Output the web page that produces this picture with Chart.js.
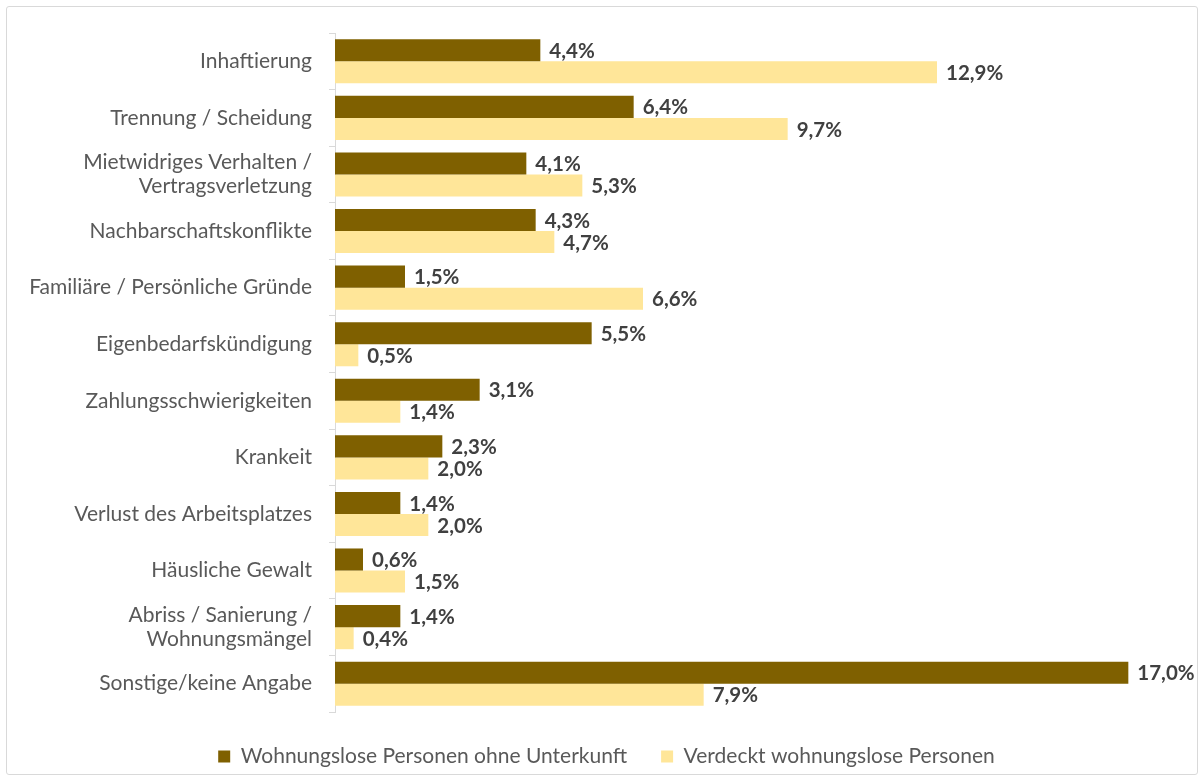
<!DOCTYPE html>
<html><head><meta charset="utf-8">
<script src="https://cdn.jsdelivr.net/npm/chart.js@4.4.1/dist/chart.umd.min.js"></script>
<style>
html,body{margin:0;padding:0;background:#fff;overflow:hidden;}
#wrap{position:relative;width:1203px;height:780px;}
#frame{position:absolute;left:6px;top:6px;width:1190px;height:767px;border:1px solid #d9d9d9;border-radius:3px;pointer-events:none;}
canvas{position:absolute;left:0;top:0;}
</style></head><body>
<div id="wrap"><canvas id="c" width="1203" height="780" style="width:1203px;height:780px"></canvas><div id="frame"></div></div>
<script>
const categories = [
  'Inhaftierung',
  'Trennung / Scheidung',
  ['Mietwidriges Verhalten /', 'Vertragsverletzung'],
  'Nachbarschaftskonflikte',
  'Familiäre / Persönliche Gründe',
  'Eigenbedarfskündigung',
  'Zahlungsschwierigkeiten',
  'Krankeit',
  'Verlust des Arbeitsplatzes',
  'Häusliche Gewalt',
  ['Abriss / Sanierung /', 'Wohnungsmängel'],
  'Sonstige/keine Angabe'
];
const ohneUnterkunft = [4.4, 6.4, 4.1, 4.3, 1.5, 5.5, 3.1, 2.3, 1.4, 0.6, 1.4, 17.0];
const verdeckt = [12.9, 9.7, 5.3, 4.7, 6.6, 0.5, 1.4, 2.0, 2.0, 1.5, 0.4, 7.9];
const seriesNames = ['Wohnungslose Personen ohne Unterkunft', 'Verdeckt wohnungslose Personen'];

const FONT = 'Lato';
const fmt = v => v.toFixed(1).replace('.', ',') + '%';

const valueLabels = {
  id: 'valueLabels',
  afterDatasetsDraw(chart) {
    const ctx = chart.ctx;
    ctx.save();
    ctx.font = 'bold 20.5px ' + FONT;
    ctx.fillStyle = '#404040';
    ctx.textAlign = 'left';
    ctx.textBaseline = 'middle';
    chart.data.datasets.forEach((ds, i) => {
      const meta = chart.getDatasetMeta(i);
      meta.data.forEach((bar, j) => {
        ctx.fillText(fmt(ds.data[j]), bar.x + 9, bar.y + 1);
      });
    });
    ctx.restore();
  }
};

new Chart(document.getElementById('c'), {
  type: 'bar',
  data: {
    labels: categories,
    datasets: [
      { label: seriesNames[0], data: ohneUnterkunft, backgroundColor: '#7F6000', borderWidth: 0,
        categoryPercentage: 0.78, barPercentage: 1 },
      { label: seriesNames[1], data: verdeckt, backgroundColor: '#FFE699', borderWidth: 0,
        categoryPercentage: 0.78, barPercentage: 1 }
    ]
  },
  options: {
    indexAxis: 'y',
    responsive: false,
    animation: false,
    layout: { padding: { top: 33, left: 10, right: 0, bottom: 3 } },
    scales: {
      x: { display: false, min: 0, max: 18.6 },
      y: {
        grid: { drawOnChartArea: false, drawTicks: true, tickLength: 6, color: '#d9d9d9', offset: true },
        border: { color: '#d9d9d9' },
        ticks: { color: '#595959', font: { size: 21, family: FONT, lineHeight: 1.15 }, padding: 17, autoSkip: false },
        afterFit(s) { s.width = 325; }
      }
    },
    plugins: {
      legend: {
        position: 'bottom',
        maxHeight: 68,
        labels: {
          boxWidth: 12, boxHeight: 12, padding: 34, color: '#595959',
          font: { size: 21, family: FONT }
        }
      },
      tooltip: { enabled: false }
    }
  },
  plugins: [valueLabels]
});
</script>
</body></html>
